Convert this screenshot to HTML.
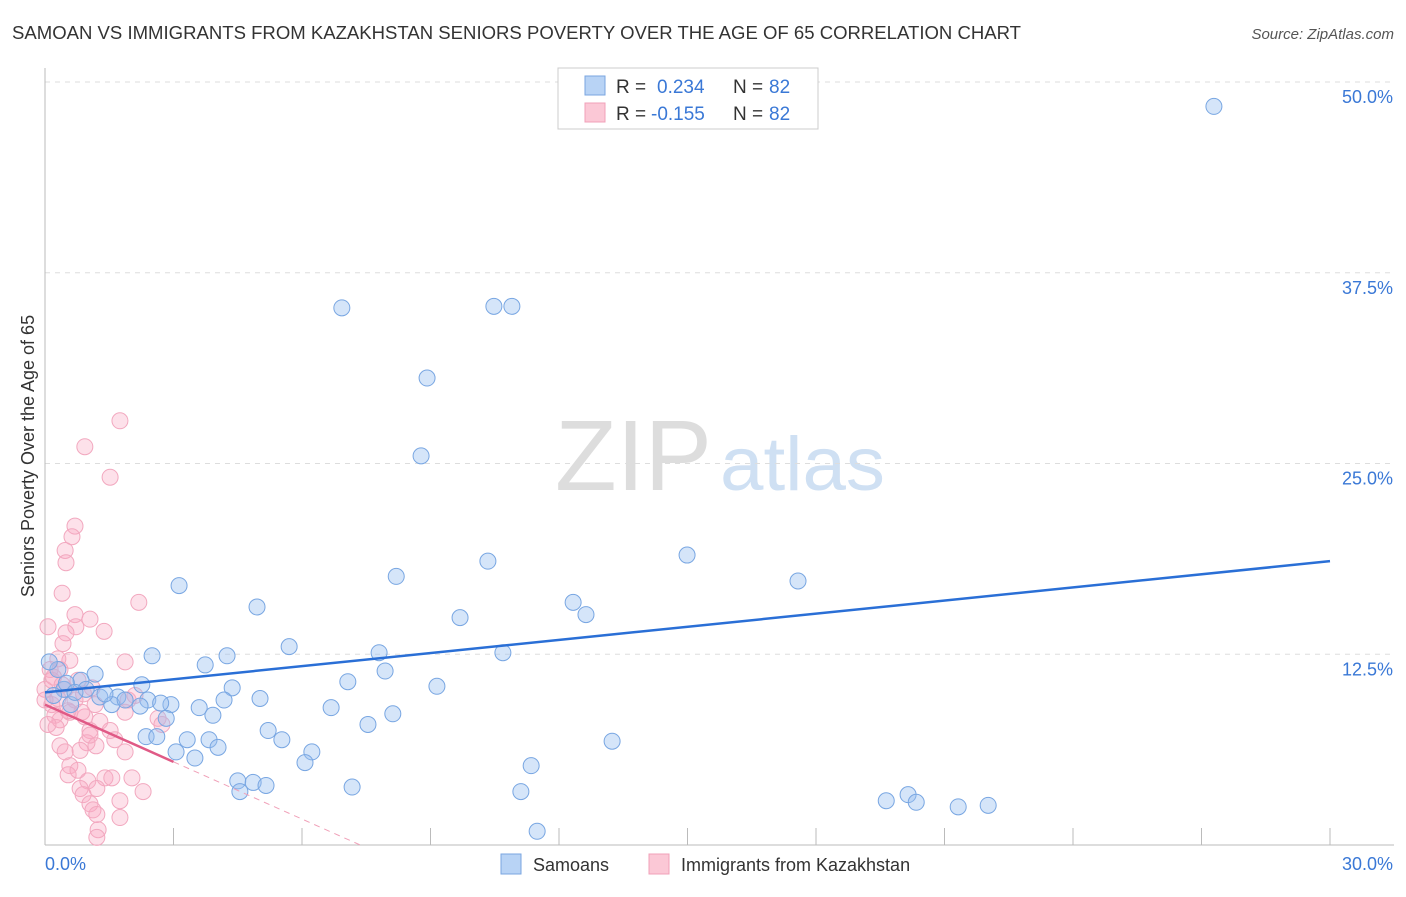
<!DOCTYPE html>
<html><head><meta charset="utf-8"><style>
body{margin:0;background:#fff;font-family:"Liberation Sans",sans-serif;}
svg text{font-family:"Liberation Sans",sans-serif;}
</style></head><body>
<svg id="chart" width="1406" height="892" viewBox="0 0 1406 892">
<text x="12" y="39" font-size="18" fill="#333" textLength="1009" lengthAdjust="spacingAndGlyphs">SAMOAN VS IMMIGRANTS FROM KAZAKHSTAN SENIORS POVERTY OVER THE AGE OF 65 CORRELATION CHART</text>
<text x="1394" y="39" font-size="15" fill="#555" text-anchor="end" font-style="italic">Source: ZipAtlas.com</text>
<text x="555" y="490" font-size="100" textLength="157" lengthAdjust="spacingAndGlyphs" fill="#ddd" font-family="Liberation Serif, serif">ZIP</text>
<text x="720" y="490" font-size="76" textLength="165" lengthAdjust="spacingAndGlyphs" fill="#cfe0f3">atlas</text>
<g id="grid"></g>
<g id="axes"></g>
<g id="pts"></g>
<g id="lines"></g>
<text transform="translate(34,456) rotate(-90)" font-size="18" fill="#333" text-anchor="middle">Seniors Poverty Over the Age of 65</text>
<g>
<rect x="558" y="68" width="260" height="61" fill="#fff" stroke="#ccc"/>
<rect x="585" y="76" width="20" height="19" fill="#b8d3f5" stroke="#7aa6e0"/>
<text x="616" y="93" font-size="19" fill="#333">R =</text>
<text x="657" y="93" font-size="19" fill="#3a78d6">0.234</text>
<text x="733" y="93" font-size="19" fill="#333">N =</text>
<text x="769" y="93" font-size="19" fill="#3a78d6">82</text>
<rect x="585" y="103" width="20" height="19" fill="#fbc8d6" stroke="#f0a0b8"/>
<text x="616" y="120" font-size="19" fill="#333">R =</text>
<text x="651" y="120" font-size="19" fill="#3a78d6">-0.155</text>
<text x="733" y="120" font-size="19" fill="#333">N =</text>
<text x="769" y="120" font-size="19" fill="#3a78d6">82</text>
</g>
<g>
<rect x="501" y="854" width="20" height="20" fill="#b8d3f5" stroke="#7aa6e0"/>
<text x="533" y="871" font-size="18" fill="#333">Samoans</text>
<rect x="649" y="854" width="20" height="20" fill="#fbc8d6" stroke="#f0a0b8"/>
<text x="681" y="871" font-size="18" fill="#333">Immigrants from Kazakhstan</text>
</g>
</svg>
<script>
const xTicks=[0,3,6,9,12,15,18,21,24,27,30];
const yTicks=[12.5,25,37.5,50];
const yTickLabels=["12.5%","25.0%","37.5%","50.0%"];
const blueX=[27.29,6.93,10.48,10.9,8.92,8.78,14.99,10.34,17.58,8.2,3.13,12.33,12.63,9.69,4.95,5.7,10.69,7.8,2.5,4.25,3.74,7.94,1.17,7.07,9.15,4.37,2.26,0.84,0.44,1.28,5.02,1.7,2.4,2.94,4.18,6.68,8.12,3.6,3.92,2.83,7.54,2.22,1.56,5.21,13.24,2.36,2.61,3.32,3.83,5.53,4.04,3.06,6.23,3.5,6.07,11.35,4.5,4.86,5.16,4.55,7.17,11.11,19.64,20.15,20.34,21.32,22.02,11.49,2.7,0.3,0.2,0.6,0.96,1.87,0.5,1.4,0.1,0.7];
const blueY=[48.4,35.2,35.3,35.3,30.6,25.5,19.0,18.6,17.3,17.6,17.0,15.9,15.1,14.9,15.6,13.0,12.6,12.6,12.4,12.4,11.8,11.4,11.2,10.7,10.4,10.3,10.5,10.8,10.2,9.7,9.6,9.7,9.5,9.2,9.5,9.0,8.6,9.0,8.5,8.3,7.9,9.1,9.2,7.5,6.8,7.1,7.1,6.9,6.9,6.9,6.4,6.1,6.1,5.7,5.4,5.2,4.2,4.1,3.9,3.5,3.8,3.5,2.9,3.3,2.8,2.5,2.6,0.9,9.3,11.5,9.8,9.2,10.2,9.5,10.6,9.9,12.0,10.0];
const pinkX=[1.75,0.93,1.52,0.7,0.63,0.47,0.49,0.4,2.19,0.7,1.05,0.07,0.72,0.49,1.38,0.42,1.87,0.58,0.3,0.12,0.77,1.1,0.47,0.16,0.23,0.35,0.58,0.93,1.17,1.87,1.94,2.64,2.73,1.52,1.28,1.05,0.98,1.19,0.35,0.47,0.82,1.87,0.58,0.54,0.77,1.0,1.4,1.56,2.03,0.82,0.89,1.21,2.29,1.05,1.12,1.75,1.21,1.75,1.24,1.21,0,0.16,0.3,0.0,0.35,0.7,0.86,0.26,1.63,1.05,0.07,0.54,2.1,0.2,0.4,0.9];
const pinkY=[27.8,26.1,24.1,20.9,20.2,19.3,18.5,16.5,15.9,15.1,14.8,14.3,14.3,13.9,14.0,13.2,12.0,12.1,12.2,11.5,10.8,10.3,10.2,9.2,8.5,8.2,8.7,8.4,9.2,8.7,9.5,8.3,7.9,7.5,8.1,7.5,6.7,6.5,6.5,6.1,6.2,6.1,5.2,4.6,4.9,4.2,4.4,4.4,4.4,3.7,3.3,3.7,3.5,2.7,2.3,2.9,2.0,1.8,1.0,0.5,10.2,10.8,9.6,9.5,11.5,9.5,8.7,7.7,6.9,7.2,7.9,8.8,9.8,11.0,10.5,9.9];
const blueLine=[10.0,18.6];   // y at x=0 and x=30
const pinkLine=[9.2,-1.25];   // intercept, slope per %
const NS="http://www.w3.org/2000/svg";
const X=v=>45+v*(1330-45)/30, Y=v=>845-v*(845-82)/50;
function mk(tag,attrs,parent){const e=document.createElementNS(NS,tag);for(const k in attrs)e.setAttribute(k,attrs[k]);document.getElementById(parent).appendChild(e);return e;}
yTicks.forEach((t,i)=>{
 const g=mk('line',{x1:45,x2:1394,y1:Y(t),y2:Y(t),stroke:'#ddd','stroke-dasharray':'5,5'},'grid');
 
 
 const l=mk('text',{x:1393,y:Y(t)+21,'font-size':18,fill:'#3a78d6','text-anchor':'end'},'axes');
 l.textContent=yTickLabels[i];
 
 
});
const ya=mk('line',{x1:45,x2:45,y1:68,y2:845,stroke:'#bbb'},'axes');


const xa=mk('line',{x1:45,x2:1394,y1:845,y2:845,stroke:'#bbb'},'axes');


xTicks.forEach(t=>{const e=mk('line',{x1:X(t),x2:X(t),y1:828,y2:845,stroke:'#bbb'},'axes');
 
 });
const x0=mk('text',{x:45,y:870,'font-size':18,fill:'#3a78d6'},'axes');x0.textContent=xTicks[0].toFixed(1)+'%';


const x1=mk('text',{x:1393,y:870,'font-size':18,fill:'#3a78d6','text-anchor':'end'},'axes');x1.textContent=xTicks[xTicks.length-1].toFixed(1)+'%';


pinkX.forEach((v,i)=>{const c=mk('circle',{cx:X(v),cy:Y(pinkY[i]),r:8,fill:'rgba(248,170,195,0.35)',stroke:'#f2a8bf','stroke-width':1},'pts');
 
 });
blueX.forEach((v,i)=>{const c=mk('circle',{cx:X(v),cy:Y(blueY[i]),r:8,fill:'rgba(150,190,240,0.4)',stroke:'#78a6e2','stroke-width':1},'pts');
 
 });
const bl=mk('line',{x1:X(0),y1:Y(blueLine[0]),x2:X(30),y2:Y(blueLine[1]),stroke:'#2a6fd6','stroke-width':2.5},'lines');


const pz=-pinkLine[0]/pinkLine[1];
const pd=mk('line',{x1:X(3),y1:Y(pinkLine[0]+pinkLine[1]*3),x2:X(pz),y2:Y(0),stroke:'#f0a0b8','stroke-width':1,'stroke-dasharray':'6,5'},'lines');


const pl=mk('line',{x1:X(0),y1:Y(pinkLine[0]),x2:X(3),y2:Y(pinkLine[0]+pinkLine[1]*3),stroke:'#e05a86','stroke-width':2.5},'lines');


</script>
</body></html>
